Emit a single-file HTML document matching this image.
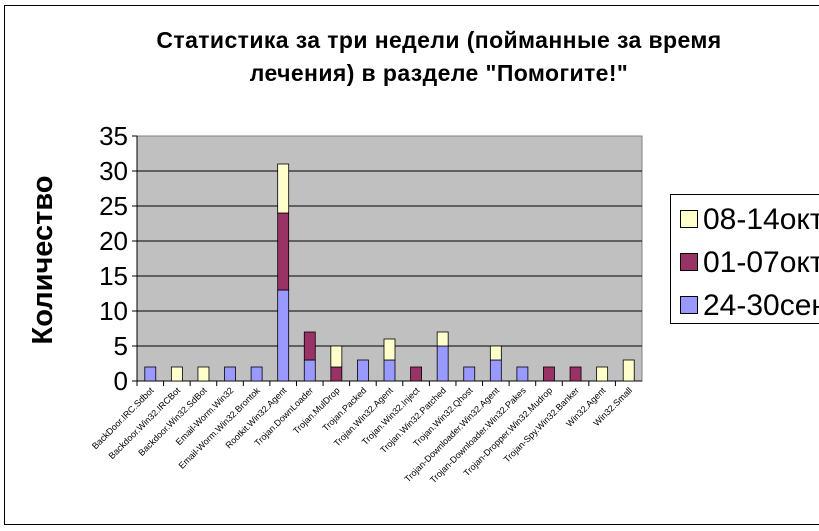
<!DOCTYPE html>
<html><head><meta charset="utf-8"><style>
body{margin:0;background:#fff;width:819px;height:531px;overflow:hidden}
svg{display:block;font-family:"Liberation Sans",sans-serif}
</style></head><body>
<svg width="819" height="531">
<rect x="4.5" y="5.5" width="830" height="519" fill="#fff" stroke="#000"/>
<text x="439" y="48" text-anchor="middle" font-size="23" font-weight="bold" letter-spacing="0.4">Статистика за три недели (пойманные за время</text>
<text x="439" y="81" text-anchor="middle" font-size="23" font-weight="bold" letter-spacing="0.4">лечения) в разделе "Помогите!"</text>
<text transform="translate(52,260) rotate(-90)" text-anchor="middle" font-size="29" font-weight="bold">Количество</text>
<g id="plot"></g>
<g>
<rect x="670.5" y="194.5" width="160" height="129" fill="#fff" stroke="#000"/>
<g id="leg"></g>
</g>
</svg>
<script>
const categories=["BackDoor.IRC.Sdbot","Backdoor.Win32.IRCBot","Backdoor.Win32.SdBot","Email-Worm.Win32","Email-Worm.Win32.Brontok","Rootkit.Win32.Agent","Trojan.DownLoader","Trojan.MulDrop","Trojan.Packed","Trojan.Win32.Agent","Trojan.Win32.Inject","Trojan.Win32.Patched","Trojan.Win32.Qhost","Trojan-Downloader.Win32.Agent","Trojan-Downloader.Win32.Pakes","Trojan-Dropper.Win32.Mudrop","Trojan-Spy.Win32.Banker","Win32.Agent","Win32.Small"];
const sep=[2,0,0,2,2,13,3,0,3,3,0,5,2,3,2,0,0,0,0];
const oct1=[0,0,0,0,0,11,4,2,0,0,2,0,0,0,0,2,2,0,0];
const oct8=[0,2,2,0,0,7,0,3,0,3,0,2,0,2,0,0,0,2,3];
const seriesNames=["24-30сентября","01-07октября","08-14октября"];
const yTicks=[0,5,10,15,20,25,30,35];
const colors=["#9999ff","#993366","#ffffcc"];
const NS="http://www.w3.org/2000/svg";
const L=137,R=642,T=136,B=381,yMax=35;
const y=v=>B-(v/yMax)*(B-T);
const step=(R-L)/categories.length;
const x=i=>L+step*(i+0.5);
const plot=document.getElementById('plot');
function mk(t,a,p){const e=document.createElementNS(NS,t);for(const k in a)e.setAttribute(k,a[k]);(p||plot).appendChild(e);return e;}
const bg=mk('rect',{x:L,y:T,width:R-L,height:B-T,fill:'#c0c0c0',stroke:'#808080'});


yTicks.forEach(v=>{
  if(v>0&&v<yMax){const g=mk('line',{x1:L,x2:R,y1:y(v),y2:y(v),stroke:'#000'});
  
  }
  const t=mk('line',{x1:L-5,x2:L,y1:y(v),y2:y(v),stroke:'#000'});
  
  
  const tx=mk('text',{x:L-9,y:y(v)+9,'text-anchor':'end','font-size':26});
  tx.textContent=v;
  
  
});
const ax=mk('line',{x1:L,x2:L,y1:T,y2:B,stroke:'#000'});


const ax2=mk('line',{x1:L,x2:R,y1:B,y2:B,stroke:'#000'});


const bw=11;
categories.forEach((c,i)=>{
  const tk=mk('line',{x1:L+step*i,x2:L+step*i,y1:B,y2:B+5,stroke:'#000'});
  
  
  let base=0;
  [sep,oct1,oct8].forEach((s,k)=>{
    const v=s[i]; if(!v) return;
    const r=mk('rect',{x:x(i)-bw/2,y:y(base+v),width:bw,height:y(base)-y(base+v),fill:colors[k],stroke:'#000','stroke-width':0.8});
    
    
    base+=v;
  });
  const t=mk('text',{transform:`translate(${x(i)+4},${B+10}) rotate(-45)`,'text-anchor':'end','font-size':9});
  t.textContent=c;
  
  
});
const leg=document.getElementById('leg');
[2,1,0].forEach((k,j)=>{
  const yy=210+j*43;
  const s=mk('rect',{x:680.5,y:yy+0.5,width:17,height:17,fill:colors[k],stroke:'#000'},leg);
  
  
  const t=mk('text',{x:703,y:yy+19,'font-size':30},leg);
  t.textContent=seriesNames[k];
  
  
});
</script>
</body></html>
